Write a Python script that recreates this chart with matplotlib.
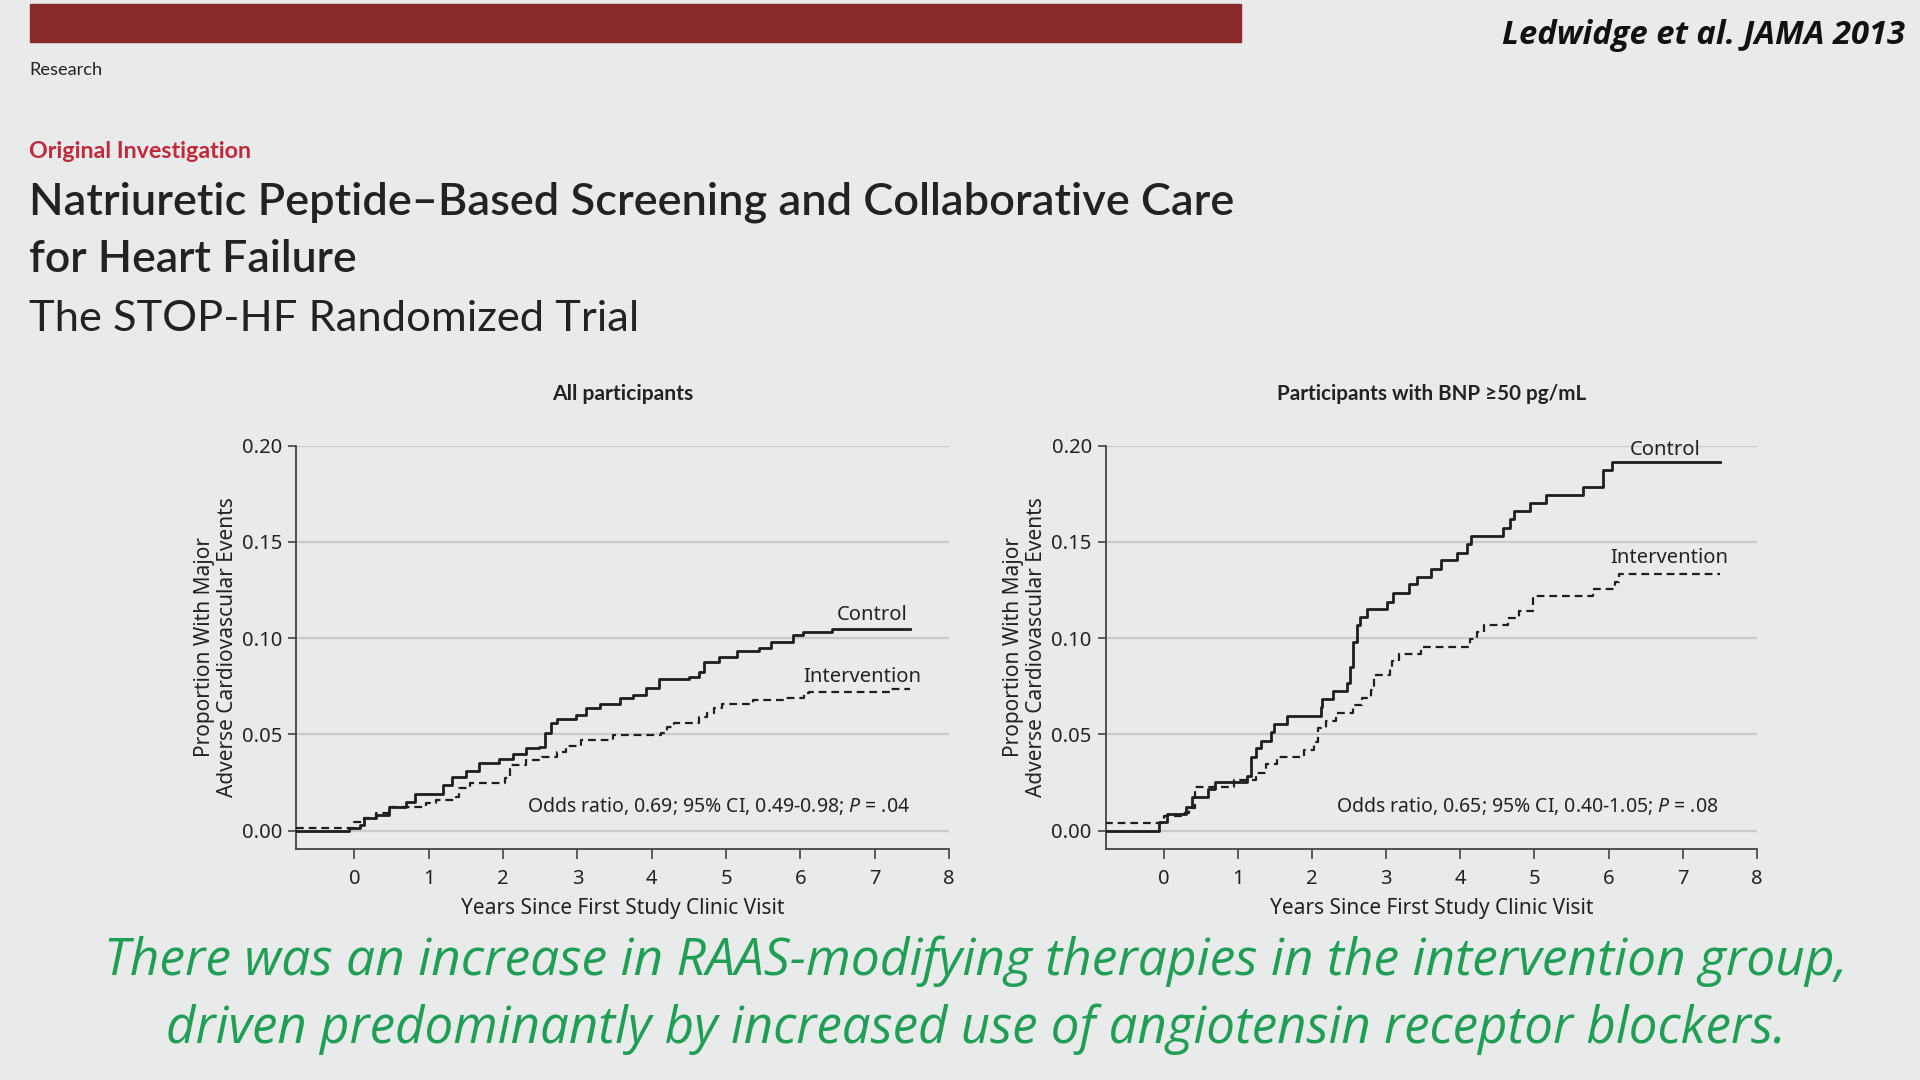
import matplotlib
matplotlib.use("Agg")
import matplotlib.pyplot as plt
from matplotlib.patches import Rectangle

# ---- data ----
years_ticks = [0, 1, 2, 3, 4, 5, 6, 7, 8]
prop_ticks = [0.00, 0.05, 0.10, 0.15, 0.20]

all_ctrl_t = [-0.78, -0.07, 0.07, 0.135, 0.29, 0.47, 0.695, 0.81, 1.19, 1.32, 1.50, 1.68,
              1.95, 2.13, 2.31, 2.49, 2.56, 2.65, 2.72, 2.98, 3.12, 3.30, 3.57, 3.75,
              3.93, 4.10, 4.50, 4.64, 4.71, 4.91, 5.15, 5.45, 5.60, 5.90, 6.03, 6.42,
              7.48]
all_ctrl_v = [0.000, 0.0012, 0.003, 0.0064, 0.0082, 0.0125, 0.015, 0.019, 0.0237, 0.028, 0.031, 0.0353,
              0.037, 0.040, 0.0428, 0.0436, 0.0506, 0.0558, 0.0578, 0.060, 0.0635, 0.066, 0.0687, 0.0705,
              0.074, 0.0786, 0.080, 0.0826, 0.0878, 0.0904, 0.0933, 0.0947, 0.0981, 0.1016, 0.1033, 0.1047,
              0.1047]
all_int_t = [-0.78, 0.00, 0.135, 0.29, 0.47, 0.96, 1.10, 1.37, 1.41, 1.55, 2.02, 2.09,
             2.31, 2.53, 2.72, 2.85, 3.05, 3.48, 4.13, 4.20, 4.30, 4.64, 4.75, 4.84,
             4.95, 5.36, 5.78, 6.05, 6.12, 7.20, 7.48]
all_int_v = [0.0016, 0.0047, 0.0064, 0.009, 0.0125, 0.0142, 0.0157, 0.0173, 0.022, 0.0246, 0.0272, 0.0341,
             0.0367, 0.0384, 0.041, 0.0441, 0.047, 0.0497, 0.0505, 0.054, 0.056, 0.0592, 0.061, 0.0635,
             0.066, 0.0679, 0.069, 0.0713, 0.0722, 0.0734, 0.0734]

bnp_ctrl_t = [-0.79, -0.06, 0.04, 0.30, 0.38, 0.60, 0.69, 1.12, 1.18, 1.24, 1.32, 1.45,
              1.49, 1.66, 2.12, 2.14, 2.29, 2.47, 2.51, 2.56, 2.61, 2.65, 2.74, 3.01,
              3.09, 3.31, 3.41, 3.61, 3.74, 3.95, 4.09, 4.14, 4.57, 4.67, 4.73, 4.94,
              5.16, 5.66, 5.92, 6.05, 7.50]
bnp_ctrl_v = [0.000, 0.0047, 0.0087, 0.0125, 0.0173, 0.0215, 0.0255, 0.0284, 0.0384, 0.0428, 0.0467, 0.0514,
              0.0554, 0.0597, 0.0644, 0.0682, 0.0725, 0.0768, 0.0851, 0.0981, 0.1068, 0.1108, 0.115, 0.1189,
              0.1236, 0.1281, 0.1319, 0.1362, 0.1406, 0.1445, 0.1489, 0.153, 0.157, 0.1617, 0.166, 0.1703,
              0.1743, 0.1786, 0.1873, 0.1913, 0.1913]
bnp_int_t = [-0.79, 0.01, 0.23, 0.34, 0.43, 0.95, 1.24, 1.38, 1.53, 1.89, 2.03, 2.08,
             2.19, 2.32, 2.56, 2.68, 2.79, 2.84, 3.05, 3.08, 3.18, 3.47, 4.13, 4.23,
             4.32, 4.64, 4.79, 4.98, 5.79, 6.08, 6.14, 7.50]
bnp_int_v = [0.0038, 0.0076, 0.009, 0.0116, 0.0228, 0.0263, 0.0298, 0.0345, 0.0381, 0.0419, 0.0462, 0.0532,
             0.0571, 0.0609, 0.0653, 0.0687, 0.0731, 0.081, 0.085, 0.088, 0.0917, 0.0952, 0.0995, 0.1033,
             0.1068, 0.1103, 0.1142, 0.122, 0.1255, 0.1293, 0.1331, 0.1331]

panels = [
    dict(title="All participants", title_w=142, ctrl=(all_ctrl_t, all_ctrl_v), inter=(all_int_t, all_int_v),
         odds="Odds ratio, 0.69; 95% CI, 0.49-0.98; $P$ = .04",
         ctrl_lbl=(6.97, 0.112), int_lbl=(6.83, 0.080)),
    dict(title="Participants with BNP \u226550 pg/mL", title_w=309, ctrl=(bnp_ctrl_t, bnp_ctrl_v),
         inter=(bnp_int_t, bnp_int_v),
         odds="Odds ratio, 0.65; 95% CI, 0.40-1.05; $P$ = .08",
         ctrl_lbl=(6.76, 0.1977), int_lbl=(6.82, 0.1416)),
]

bg = "#e9eaea"
ink = "#222222"
chart_font = ["Noto Sans", "DejaVu Sans"]
head_font = ["Lato", "DejaVu Sans"]

plt.rcParams["font.family"] = chart_font
plt.rcParams["mathtext.fontset"] = "custom"
plt.rcParams["mathtext.rm"] = "Noto Sans"
plt.rcParams["mathtext.it"] = "Noto Sans:italic"

W, H = 1920, 1080
fig = plt.figure(figsize=(19.2, 10.8), dpi=100, facecolor=bg)
renderer = fig.canvas.get_renderer()


def fit(t, width_px):
    # scale a text so that it spans the given width in pixels
    w = t.get_window_extent(renderer).width
    t.set_fontsize(t.get_fontsize() * width_px / w)


def ftext(x, y, s, width_px=None, **kw):
    t = fig.text(x / W, 1 - y / H, s, **kw)
    if width_px:
        fit(t, width_px)
    return t


# header band
fig.patches.append(Rectangle((30 / W, 1 - 42 / H), (1241 - 30) / W, 38 / H,
                             transform=fig.transFigure, color="#8b2a2b", zorder=0))
ftext(29, 70, "Research", 73, family=head_font, fontsize=12, color=ink, va="center")
ftext(29, 152, "Original Investigation", 223, family=head_font, fontsize=16,
      fontweight="bold", color="#c0283b", va="center")
ftext(29, 202, "Natriuretic Peptide\u2013Based Screening and Collaborative Care", 1203,
      family=head_font, fontsize=32, fontweight="semibold", color=ink, va="center")
ftext(29, 260, "for Heart Failure", 328, family=head_font, fontsize=32,
      fontweight="semibold", color=ink, va="center")
ftext(29, 319, "The STOP-HF Randomized Trial", 610, family=head_font, fontsize=32,
      color=ink, va="center")
ftext(1905, 36, "Ledwidge et al. JAMA 2013", 402, family=["Open Sans", "DejaVu Sans"],
      fontsize=20, fontweight="bold", style="italic", color="#111111", ha="right", va="center")

green = "#1f9f55"
ftext(976, 961, "There was an increase in RAAS-modifying therapies in the intervention group,", 1745,
      family=["Open Sans", "DejaVu Sans"], fontsize=34, style="italic", color=green,
      ha="center", va="center")
ftext(976, 1029, "driven predominantly by increased use of angiotensin receptor blockers.", 1619,
      family=["Open Sans", "DejaVu Sans"], fontsize=34, style="italic", color=green,
      ha="center", va="center")

# chart panels
ax_left = [296.4, 1105.7]
ax_right = [949.0, 1757.0]
top, bottom = 445.7, 848.6
for i, p in enumerate(panels):
    ax = fig.add_axes([ax_left[i] / W, 1 - bottom / H, (ax_right[i] - ax_left[i]) / W, (bottom - top) / H])
    ax.set_facecolor("none")
    ax.set_xlim(-0.78, 8)
    ax.set_ylim(-0.0093, 0.20)
    for s in ["top", "right"]:
        ax.spines[s].set_visible(False)
    for s in ["left", "bottom"]:
        ax.spines[s].set_color("#444444")
        ax.spines[s].set_linewidth(1.3)
    ax.spines["left"].set_bounds(-0.0093, 0.20)
    ax.set_xticks(years_ticks)
    ax.set_yticks(prop_ticks)
    ax.set_yticklabels([f"{v:.2f}" for v in prop_ticks])
    ax.tick_params(axis="both", colors="#444444", labelcolor=ink, labelsize=14.5,
                   length=7, width=1.2)
    ax.tick_params(axis="x", pad=8)
    ax.tick_params(axis="y", pad=4, length=6)
    for v in prop_ticks:
        ax.axhline(v, color="#c9caca", lw=1.6, zorder=1)

    ax.step(*p["ctrl"], where="post", color="#1e1e1e", lw=2.0, zorder=3)
    ax.step(*p["inter"], where="post", color="#1e1e1e", lw=1.6,
            linestyle=(0, (3.5, 2.2)), zorder=3)

    ax.text(p["ctrl_lbl"][0], p["ctrl_lbl"][1], "Control", fontsize=14.5, color=ink,
            ha="center", va="center")
    ax.text(p["int_lbl"][0], p["int_lbl"][1], "Intervention", fontsize=14.5, color=ink,
            ha="center", va="center")
    ax.text(7.48, 0.0128, p["odds"], fontsize=14, color=ink, ha="right", va="center")

    t = ax.set_title(p["title"], fontsize=15, fontweight="bold", color=ink, pad=33,
                     family=head_font)
    fit(t, p["title_w"])
    ax.set_xlabel("Years Since First Study Clinic Visit", fontsize=15, color=ink, labelpad=6)
    ax.set_ylabel("Proportion With Major\nAdverse Cardiovascular Events", fontsize=15,
                  color=ink, labelpad=3, linespacing=1.15)

fig.savefig("out.png", dpi=100, facecolor=bg)
